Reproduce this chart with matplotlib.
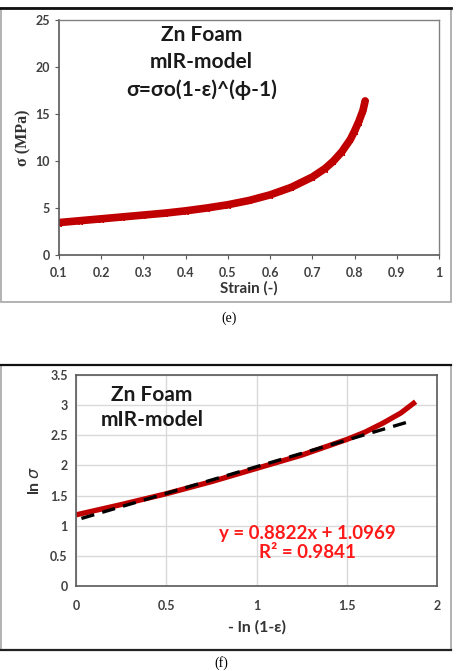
import numpy as np
import matplotlib.pyplot as plt
from matplotlib.patches import Rectangle
from matplotlib.lines import Line2D

# panel (e): stress vs strain
strain = [0.10, 0.15, 0.20, 0.25, 0.30, 0.35, 0.40, 0.45, 0.50, 0.55, 0.60,
          0.65, 0.70, 0.73, 0.75, 0.77, 0.79, 0.80, 0.81, 0.82, 0.825]
stress = [3.45, 3.65, 3.85, 4.05, 4.25, 4.45, 4.70, 5.00, 5.35, 5.80, 6.40,
          7.20, 8.30, 9.20, 10.0, 11.0, 12.3, 13.2, 14.2, 15.4, 16.4]

# panel (f): ln sigma vs -ln(1-eps)
lnx = [0.015, 0.25, 0.50, 0.75, 1.00, 1.25, 1.50, 1.60, 1.70, 1.80, 1.87]
lny = [1.19, 1.35, 1.53, 1.73, 1.95, 2.17, 2.43, 2.55, 2.70, 2.87, 3.03]
fit_x = [0.03, 1.85]
fit_y = [1.12, 2.73]

e_xticks = [0.1, 0.2, 0.3, 0.4, 0.5, 0.6, 0.7, 0.8, 0.9, 1]
e_xlabels = ["0.1", "0.2", "0.3", "0.4", "0.5", "0.6", "0.7", "0.8", "0.9", "1"]
e_yticks = [0, 5, 10, 15, 20, 25]
f_xticks = [0, 0.5, 1, 1.5, 2]
f_xlabels = ["0", "0.5", "1", "1.5", "2"]
f_yticks = [0, 0.5, 1, 1.5, 2, 2.5, 3, 3.5]
f_ylabels = ["0", "0.5", "1", "1.5", "2", "2.5", "3", "3.5"]

sans = ["Lato", "DejaVu Sans"]
serif = ["Liberation Serif", "DejaVu Serif"]
tick_col = "#404040"

fig = plt.figure(figsize=(4.59, 6.71), dpi=100)

# outer frames of both panels (grey box, dark top / bottom edges)
fig.patches.append(Rectangle((0.002, 0.550), 0.980, 0.438, transform=fig.transFigure,
                             fill=False, edgecolor="#a6a6a6", linewidth=1.2))
fig.lines.append(Line2D([0.0, 0.982], [0.988, 0.988], transform=fig.transFigure,
                        color="#111111", linewidth=2.0))
fig.patches.append(Rectangle((0.002, 0.031), 0.980, 0.425, transform=fig.transFigure,
                             fill=False, edgecolor="#a6a6a6", linewidth=1.2))
fig.lines.append(Line2D([0.0, 0.982], [0.456, 0.456], transform=fig.transFigure,
                        color="#111111", linewidth=1.6))
fig.lines.append(Line2D([0.0, 0.982], [0.031, 0.031], transform=fig.transFigure,
                        color="#222222", linewidth=1.6))

# ---- (e)
ax1 = fig.add_axes([0.1285, 0.620, 0.828, 0.350])
ax1.plot(strain, stress, color="#c00000", linewidth=5.5, marker="*", markersize=5,
         solid_capstyle="round")
ax1.set_xlim(0.1, 1)
ax1.set_ylim(0, 25)
ax1.set_xticks(e_xticks)
ax1.set_xticklabels(e_xlabels)
ax1.set_yticks(e_yticks)
for side in ["left", "bottom"]:
    ax1.spines[side].set_color("#595959")
    ax1.spines[side].set_linewidth(1.2)
for side in ["top", "right"]:
    ax1.spines[side].set_color("#808080")
    ax1.spines[side].set_linewidth(1.0)
ax1.tick_params(length=3, color="#595959", labelsize=9, labelcolor=tick_col)
ax1.tick_params(axis="x", pad=6)
for lab in ax1.get_xticklabels() + ax1.get_yticklabels():
    lab.set_family(sans)
    lab.set_fontweight("bold")
ax1.set_xlabel("Strain (-)", family=sans, fontweight="bold", fontsize=11,
               color="#333333", labelpad=1)
ax1.set_ylabel("σ (MPa)", family=serif, fontweight="bold", fontsize=11.5,
               color="#333333", labelpad=3)
ax1.text(0.375, 0.82, "Zn Foam\nmIR-model\nσ=σo(1-ε)^(ϕ-1)", transform=ax1.transAxes,
         ha="center", va="center", family=sans, fontweight="bold", fontsize=15,
         linespacing=1.45, color="#1a1a1a")
fig.text(0.5, 0.526, "(e)", ha="center", va="center", family=serif, fontsize=10)

# ---- (f)
ax2 = fig.add_axes([0.1656, 0.1267, 0.7865, 0.3145])
ax2.grid(True, color="#d9d9d9", linewidth=1.0)
ax2.set_axisbelow(True)
ax2.plot(lnx, lny, color="#c00000", linewidth=3.8)
ax2.plot(fit_x, fit_y, color="black", linewidth=2.4, linestyle=(0, (4, 2.5)))
ax2.set_xlim(0, 2)
ax2.set_ylim(0, 3.5)
ax2.set_xticks(f_xticks)
ax2.set_xticklabels(f_xlabels)
ax2.set_yticks(f_yticks)
ax2.set_yticklabels(f_ylabels)
for s in ax2.spines.values():
    s.set_color("#595959")
    s.set_linewidth(1.2)
ax2.tick_params(length=0, pad=6, labelsize=9, labelcolor=tick_col)
ax2.tick_params(axis="x", pad=10)
for lab in ax2.get_xticklabels() + ax2.get_yticklabels():
    lab.set_family(sans)
    lab.set_fontweight("bold")
ax2.set_xlabel("- ln (1-ε)", family=sans, fontweight="bold", fontsize=11.5,
               color="#333333", labelpad=6)
ax2.set_ylabel(r"ln $\sigma$", family=sans, fontweight="bold", fontsize=11.5,
               color="#333333", labelpad=6)
ax2.text(0.21, 0.845, "Zn Foam\nmIR-model", transform=ax2.transAxes,
         ha="center", va="center", family=sans, fontweight="bold", fontsize=15,
         linespacing=1.3, color="#1a1a1a")
ax2.text(0.64, 0.205, "y = 0.8822x + 1.0969\nR² = 0.9841", transform=ax2.transAxes,
         ha="center", va="center", family=sans, fontweight="bold", fontsize=13.5,
         linespacing=1.15, color="#ff1a1a")
fig.text(0.483, 0.012, "(f)", ha="center", va="center", family=serif, fontsize=10)

fig.savefig("out.png", dpi=100)
